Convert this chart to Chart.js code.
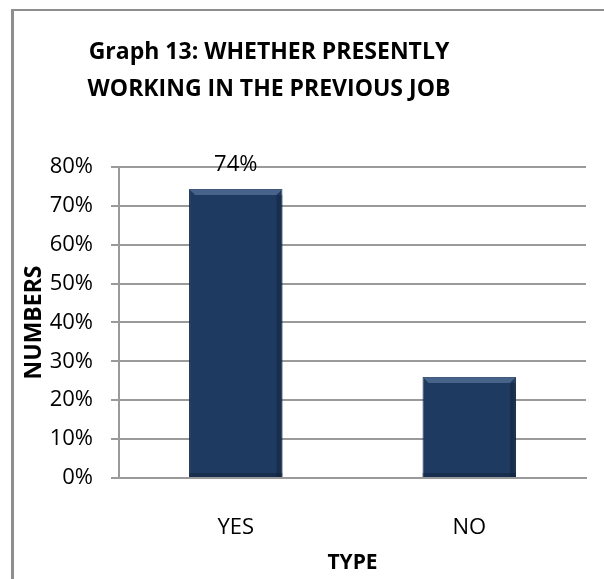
<!DOCTYPE html>
<html>
<head>
<meta charset="utf-8">
<script src="https://cdn.jsdelivr.net/npm/chart.js@4"></script>
<style>
  html, body { margin: 0; padding: 0; background: #fff; overflow: hidden; }
  body { width: 604px; height: 579px; position: relative; }
  #frame { position: absolute; left: 11px; top: 9px; width: 700px; height: 700px;
           border-top: 2px solid #8e8e8e; border-left: 3px solid #8e8e8e; }
  #wrap { position: absolute; left: -48px; top: 0; width: 652px; height: 579px; }
</style>
</head>
<body>
<div id="frame"></div>
<div id="wrap"><canvas id="grafikon"></canvas></div>
<script>
const kategoriak = ["YES", "NO"];
const ertekek = [74.3, 26];
const cimkek = ["74%", ""];
const yTickek = [0, 10, 20, 30, 40, 50, 60, 70, 80];

const racsSzin = "#9a9a9a";
const betu = "'Open Sans', 'Noto Sans', sans-serif";

// felirat a oszlop fole + enyhe "bevel" a teteje
const oszlopFelirat = {
  id: "oszlopFelirat",
  afterDatasetsDraw(chart) {
    const ctx = chart.ctx;
    const meta = chart.getDatasetMeta(0);
    meta.data.forEach((bar, i) => {
      const b = 6;
      const x0 = bar.x - bar.width / 2, x1 = bar.x + bar.width / 2;
      ctx.save();
      ctx.fillStyle = "rgba(120,150,190,0.45)";
      ctx.beginPath();
      ctx.moveTo(x0, bar.y); ctx.lineTo(x1, bar.y);
      ctx.lineTo(x1 - b, bar.y + b); ctx.lineTo(x0 + b, bar.y + b);
      ctx.closePath(); ctx.fill();
      ctx.fillStyle = "rgba(10,25,45,0.35)";
      ctx.fillRect(x1 - b, bar.y + b, b, bar.base - bar.y - b);
      ctx.fillRect(x0, bar.base - 4, bar.width, 4);
      ctx.restore();

      if (cimkek[i]) {
        ctx.save();
        ctx.font = "22px " + betu;
        ctx.fillStyle = "#000";
        ctx.textAlign = "center";
        ctx.textBaseline = "bottom";
        ctx.fillText(cimkek[i], bar.x, bar.y - 13);
        ctx.restore();
      }
    });
  }
};

new Chart(document.getElementById("grafikon"), {
  type: "bar",
  data: {
    labels: kategoriak,
    datasets: [{
      label: "NUMBERS",
      data: ertekek,
      backgroundColor: "#1f3a60",
      borderColor: "#152a47",
      borderWidth: 1,
      barPercentage: 0.4,
      categoryPercentage: 1
    }]
  },
  options: {
    responsive: true,
    maintainAspectRatio: false,
    animation: false,
    layout: { padding: { left: 0, right: 18, top: 0, bottom: 0 } },
    plugins: {
      legend: { display: false },
      tooltip: { enabled: false },
      title: {
        display: true,
        text: ["Graph 13: WHETHER PRESENTLY", "WORKING IN THE PREVIOUS JOB"],
        color: "#000",
        font: { family: betu, size: 23, weight: "bold", lineHeight: 1.65 },
        padding: { top: 33, bottom: 58 }
      }
    },
    scales: {
      x: {
        grid: { display: false },
        border: { display: true, color: racsSzin, width: 2 },
        ticks: { color: "#000", font: { family: betu, size: 22 }, padding: 29 },
        title: {
          display: true, text: "TYPE", color: "#000",
          font: { family: betu, size: 21, weight: "bold" },
          padding: { top: 0, bottom: 3 }
        },
        afterFit(scale) { scale.height = 101; }
      },
      y: {
        min: 0,
        max: 80,
        afterBuildTicks(scale) { scale.ticks = yTickek.map(v => ({ value: v })); },
        grid: { color: racsSzin, lineWidth: 2, tickLength: 8, drawTicks: true },
        border: { display: true, color: racsSzin, width: 2 },
        ticks: {
          color: "#000",
          font: { family: betu, size: 22 },
          padding: 18,
          callback: v => v + "%"
        },
        title: {
          display: true, text: "NUMBERS", color: "#000",
          font: { family: betu, size: 23, weight: "bold" },
          padding: { top: 69, bottom: 0 }
        },
        afterFit(scale) { scale.width = 167; }
      }
    }
  },
  plugins: [oszlopFelirat]
});
</script>
</body>
</html>
